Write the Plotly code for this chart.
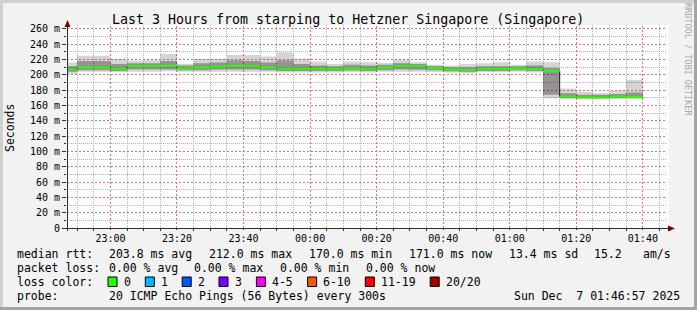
import math
import plotly.graph_objects as go
import pandas as pd

# ---------------- data ----------------
seg_start = pd.date_range("2025-12-06 22:45:00", "2025-12-07 01:35:00", freq="5min")
seg_end_time = pd.Timestamp("2025-12-07 01:40:00")

median_rtt = [206.5, 209.5, 210.0, 208.0, 211.0, 211.0, 211.5, 208.5, 209.5, 210.5,
              211.5, 211.0, 209.5, 208.0, 208.0, 208.0, 208.0, 208.5, 208.0, 209.5,
              211.0, 211.0, 209.0, 206.5, 205.5, 208.0, 208.0, 208.5, 207.5, 205.0,
              171.5, 170.5, 170.5, 171.5, 171.0]
smoke_max = [216.0, 225.0, 225.0, 220.5, 218.5, 219.5, 227.0, 214.5, 220.5, 220.5,
             226.0, 226.0, 224.0, 229.5, 221.0, 217.5, 214.0, 217.5, 216.5, 215.5,
             219.5, 216.5, 213.0, 212.0, 214.0, 215.0, 216.5, 213.0, 217.5, 216.5,
             182.0, 178.0, 176.0, 179.5, 193.5]
smoke_q3 = [211.0, 218.0, 218.0, 214.0, 215.0, 215.0, 218.0, 212.0, 215.0, 216.0,
            219.0, 218.0, 216.0, 219.0, 214.0, 212.0, 211.0, 213.0, 212.0, 213.0,
            215.0, 214.0, 211.5, 210.0, 210.0, 211.0, 211.0, 211.0, 212.0, 209.0,
            176.0, 174.0, 174.0, 175.0, 177.0]
smoke_q1 = [204.0, 206.0, 206.0, 205.0, 207.0, 207.0, 207.0, 206.0, 206.0, 207.0,
            207.0, 207.0, 206.0, 205.0, 205.0, 205.0, 205.0, 205.5, 205.0, 206.0,
            207.0, 206.5, 206.0, 204.5, 204.0, 205.0, 205.0, 206.0, 205.0, 174.0,
            170.0, 169.5, 169.5, 170.0, 170.0]
smoke_min = [201.0, 204.0, 204.0, 203.5, 204.0, 204.0, 204.5, 204.0, 204.0, 204.0,
             204.0, 204.0, 204.0, 203.0, 203.0, 203.0, 203.0, 203.5, 203.0, 204.0,
             204.0, 204.0, 203.5, 203.0, 202.5, 203.5, 203.5, 204.0, 203.0, 169.5,
             168.0, 168.5, 168.5, 168.5, 168.5]

y_tick_vals = [0, 20, 40, 60, 80, 100, 120, 140, 160, 180, 200, 220, 240, 260]
y_tick_text = ["0", "20 m", "40 m", "60 m", "80 m", "100 m", "120 m", "140 m",
               "160 m", "180 m", "200 m", "220 m", "240 m", "260 m"]
y_minor_vals = [10, 30, 50, 70, 90, 110, 130, 150, 170, 190, 210, 230, 250]

title_text = "Last 3 Hours from starping to Hetzner Singapore (Singapore)"
rtt_label = "median rtt:"
rtt_stats = ["203.8 ms avg", "212.0 ms max", "170.0 ms min", "171.0 ms now",
             "13.4 ms sd", "15.2", "am/s"]
loss_label = "packet loss:"
loss_stats = ["0.00 % avg", "0.00 % max", "0.00 % min", "0.00 % now"]
color_label = "loss color:"
loss_names = ["0", "1", "2", "3", "4-5", "6-10", "11-19", "20/20"]
loss_colors = ["#26ff00", "#00b8ff", "#0059ff", "#7e00ff", "#ff00ff",
               "#ff5500", "#ff0000", "#a10000"]
probe_label = "probe:"
probe_text = "20 ICMP Echo Pings (56 Bytes) every 300s"
date_text = "Sun Dec  7 01:46:57 2025"

X_START = pd.Timestamp("2025-12-06 22:46:57")
X_END = pd.Timestamp("2025-12-07 01:46:57")
Y_MAX = 265

# x grid positions: majors every 20 min, minors every 5 min (excluding majors)
all_5min = pd.date_range("2025-12-06 22:50:00", "2025-12-07 01:45:00", freq="5min")
x_major_vals = [t for t in all_5min if t.minute % 20 == 0]
x_minor_vals = [t for t in all_5min if t.minute % 20 != 0]

# ---------------- geometry helpers ----------------
WID, HEI = 697, 310
L, R, T, B = 67, 666, 25, 228
PW, PH = R - L, B - T


def px(x):
    return (x - L) / PW


def py(y):
    return (B - y) / PH


def time_to_paper(t):
    pix = L + (t - X_START).total_seconds() / (X_END - X_START).total_seconds() * PW
    return px(math.floor(pix) + 0.5)


def val_to_paper(v):
    pix = B - v / Y_MAX * PH
    return py(math.floor(pix) + 0.5)


xs = list(seg_start) + [seg_end_time]


def ext(v):
    return list(v) + [v[-1]]


FONT = "DejaVu Sans Mono"
fig = go.Figure()

step = dict(shape="hv", width=0)
# outer smoke
fig.add_trace(go.Scatter(x=xs, y=ext(smoke_min), mode="lines", line=step,
                         hoverinfo="skip"))
fig.add_trace(go.Scatter(x=xs, y=ext(smoke_max), mode="lines", line=step,
                         fill="tonexty", fillcolor="rgba(0,0,0,0.17)", hoverinfo="skip"))
# inner smoke
fig.add_trace(go.Scatter(x=xs, y=ext(smoke_q1), mode="lines", line=step,
                         hoverinfo="skip"))
fig.add_trace(go.Scatter(x=xs, y=ext(smoke_q3), mode="lines", line=step,
                         fill="tonexty", fillcolor="rgba(0,0,0,0.30)", hoverinfo="skip"))
# dark median line
fig.add_trace(go.Scatter(x=xs, y=ext(median_rtt), mode="lines",
                         line=dict(shape="hv", width=1, color="#202020"), hoverinfo="skip"))
# green median band (loss 0)
band = 1.3
fig.add_trace(go.Scatter(x=xs, y=[v - band for v in ext(median_rtt)], mode="lines",
                         line=step, hoverinfo="skip"))
fig.add_trace(go.Scatter(x=xs, y=[v + band for v in ext(median_rtt)], mode="lines",
                         line=step, fill="tonexty", fillcolor=loss_colors[0],
                         hoverinfo="skip"))

MAJ = "#f07070"
MIN = "#b4b4b4"

shapes = []
# grid lines (pixel-snapped so the dots stay crisp)
for t in x_minor_vals:
    xp = time_to_paper(t)
    shapes.append(dict(type="line", xref="paper", yref="paper", x0=xp, x1=xp, y0=0, y1=1,
                       line=dict(color=MIN, width=1, dash="1px,1px"), layer="between"))
for v in y_minor_vals:
    yp = val_to_paper(v)
    shapes.append(dict(type="line", xref="paper", yref="paper", x0=0, x1=1, y0=yp, y1=yp,
                       line=dict(color=MIN, width=1, dash="1px,1px"), layer="between"))
for t in x_major_vals:
    xp = time_to_paper(t)
    shapes.append(dict(type="line", xref="paper", yref="paper", x0=xp, x1=xp, y0=0, y1=1,
                       line=dict(color=MAJ, width=1, dash="2px,2px"), layer="between"))
for v in y_tick_vals[1:]:
    yp = val_to_paper(v)
    shapes.append(dict(type="line", xref="paper", yref="paper", x0=0, x1=1, y0=yp, y1=yp,
                       line=dict(color=MAJ, width=1, dash="2px,2px"), layer="between"))
# frame shading
shapes.append(dict(type="rect", xref="paper", yref="paper", x0=px(0), x1=px(WID),
                   y0=py(0), y1=py(3), fillcolor="#d0d0d0", line_width=0, layer="below"))
shapes.append(dict(type="rect", xref="paper", yref="paper", x0=px(0), x1=px(3),
                   y0=py(0), y1=py(HEI), fillcolor="#d0d0d0", line_width=0, layer="below"))
shapes.append(dict(type="rect", xref="paper", yref="paper", x0=px(0), x1=px(WID),
                   y0=py(HEI - 3), y1=py(HEI), fillcolor="#a4a4a4", line_width=0, layer="below"))
shapes.append(dict(type="rect", xref="paper", yref="paper", x0=px(WID - 3), x1=px(WID),
                   y0=py(0), y1=py(HEI), fillcolor="#a4a4a4", line_width=0, layer="below"))
shapes.append(dict(type="rect", xref="paper", yref="paper", x0=px(R), x1=px(669),
                   y0=py(T), y1=py(B), fillcolor="white", line_width=0, layer="below"))
# axes
AX = "#303030"
shapes.append(dict(type="line", xref="paper", yref="paper", x0=px(62), x1=px(670),
                   y0=py(B + 0.5), y1=py(B + 0.5), line=dict(color=AX, width=1), layer="above"))
shapes.append(dict(type="line", xref="paper", yref="paper", x0=px(L + 0.5), x1=px(L + 0.5),
                   y0=py(231), y1=py(24), line=dict(color=AX, width=1), layer="above"))
ARW = "#7f0000"
shapes.append(dict(type="path", xref="paper", yref="paper",
                   path=f"M {px(L-2.5)} {py(27)} L {px(L+3.5)} {py(27)} L {px(L+0.5)} {py(20)} Z",
                   fillcolor=ARW, line=dict(color=ARW, width=0), layer="above"))
shapes.append(dict(type="path", xref="paper", yref="paper",
                   path=f"M {px(668)} {py(B-2.5)} L {px(668)} {py(B+3.5)} L {px(675)} {py(B+0.5)} Z",
                   fillcolor=ARW, line=dict(color=ARW, width=0), layer="above"))

annotations = []


def txt(x, y, s, size=11.5, color="black", anchor="left", angle=0):
    annotations.append(dict(xref="paper", yref="paper", x=px(x), y=py(y),
                            text=s.replace("  ", " \u00a0"), showarrow=False,
                            xanchor=anchor, yanchor="middle", textangle=angle,
                            font=dict(family=FONT, size=size, color=color),
                            borderpad=0))


txt(348, 19, title_text, size=13.3, anchor="center")
txt(10, 128, "Seconds", size=11.5, anchor="center", angle=-90)
txt(688, 59, "RRDTOOL / TOBI OETIKER", size=8.5, color="#a8a8a8", anchor="center", angle=90)

row1, row2, row3, row4 = 254, 268, 282, 296
txt(16, row1, rtt_label)
for xx, s in zip([107.6, 207.6, 307.6, 407.6, 507.6, 593.3, 642.2], rtt_stats):
    txt(xx, row1, s)
txt(16, row2, loss_label)
for xx, s in zip([107.6, 193.3, 279.1, 364.9], loss_stats):
    txt(xx, row2, s)
txt(16, row3, color_label)
box_x = [108, 145.3, 182.2, 219, 256.4, 307.6, 365.3, 430.2]
lab_x = [123, 160, 197, 233.8, 271, 322, 380, 445.3]
for bx, lx, name, col in zip(box_x, lab_x, loss_names, loss_colors):
    shapes.append(dict(type="rect", xref="paper", yref="paper", x0=px(bx), x1=px(bx + 9),
                       y0=py(277), y1=py(286.5), fillcolor=col,
                       line=dict(color="black", width=1), layer="above"))
    txt(lx, row3, name)
txt(16, row4, probe_label)
txt(107.6, row4, probe_text)
txt(513, row4, date_text)

fig.update_layout(
    width=WID, height=HEI, autosize=False,
    margin=dict(l=L, r=WID - R, t=T, b=HEI - B, pad=0),
    paper_bgcolor="#f2f2f2", plot_bgcolor="white",
    showlegend=False,
    shapes=shapes, annotations=annotations,
    xaxis=dict(
        type="date",
        range=[X_START, X_END],
        tick0="2025-12-06 23:00:00", dtick=1200000, tickformat="%H:%M",
        showgrid=False,
        ticks="outside", ticklen=1, tickcolor=AX, showline=False, zeroline=False,
        tickfont=dict(family=FONT, size=10, color="black"),
        minor=dict(tick0="2025-12-06 23:00:00", dtick=300000, showgrid=False,
                   ticks="outside", ticklen=2, tickcolor=AX),
        fixedrange=True,
    ),
    yaxis=dict(
        range=[0, Y_MAX], tickmode="array", tickvals=y_tick_vals, ticktext=y_tick_text,
        showgrid=False,
        ticks="outside", ticklen=4, tickcolor=AX, showline=False, zeroline=False,
        tickfont=dict(family=FONT, size=10, color="black"),
        minor=dict(tick0=0, dtick=10, showgrid=False,
                   ticks="outside", ticklen=2, tickcolor=AX),
        fixedrange=True,
    ),
)

fig.write_html("out.html")
